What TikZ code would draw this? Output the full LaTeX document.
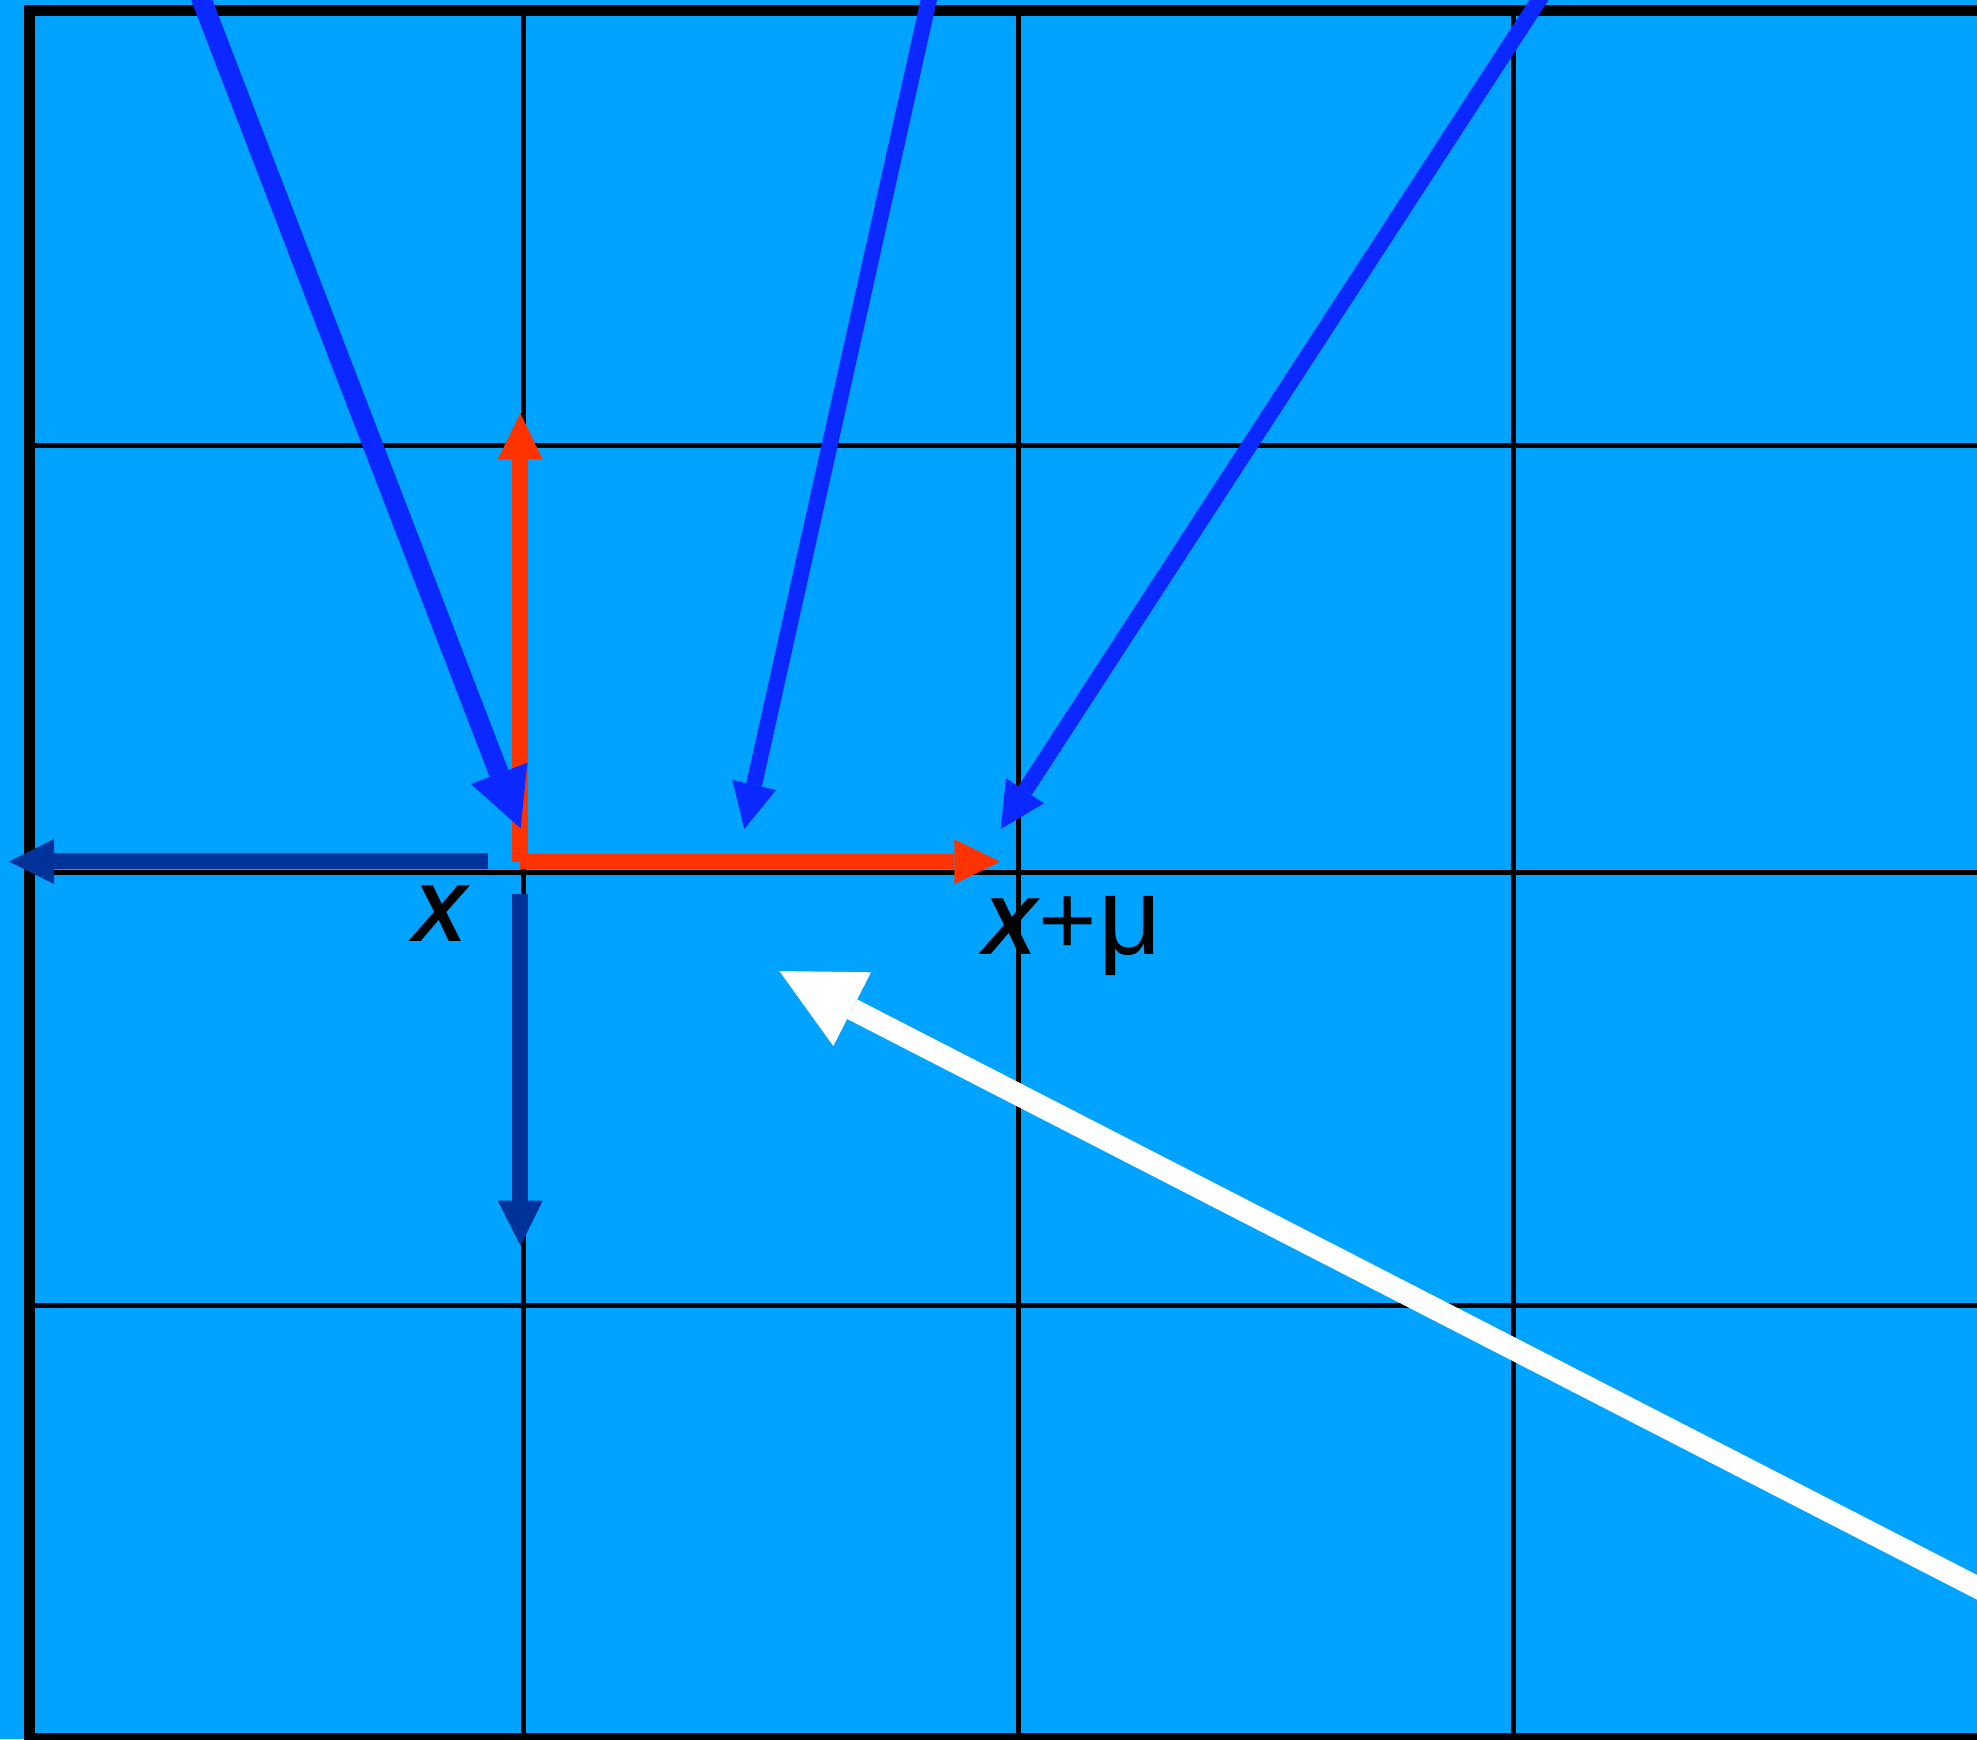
\documentclass[tikz,border=0pt]{standalone}
\usepackage{fontspec}
\setmainfont{Liberation Sans}
\definecolor{bgblue}{RGB}{0,163,255}
\definecolor{arrblue}{RGB}{10,40,255}
\definecolor{arrred}{RGB}{255,51,0}
\definecolor{arrdark}{RGB}{0,51,153}
\tikzset{
  gridline/.style={black, line width=5pt},
  borderline/.style={black, line width=11pt, line join=miter},
  shaft/.style={line width=#1, line cap=butt},
  headfill/.style={fill=#1},
  lbl/.style={inner sep=0pt, anchor=base}
}
\begin{document}
\begin{tikzpicture}[x=1pt,y=-1pt]
\useasboundingbox (0,0) rectangle (1977,1739);
\fill[bgblue] (0,0) rectangle (1977,1739);
% grid
\foreach \gx in {523.5,1018.5,1513.3} \draw[gridline] (\gx,11) -- (\gx,1739);
\foreach \gy in {445,872,1305} \draw[gridline] (29.5,\gy) -- (1977,\gy);
% border
\draw[borderline] (29.5,1739) -- (29.5,11) -- (1977,11);
\draw[borderline] (24,1738.5) -- (1977,1738.5);

% labels
\node[lbl] (labx) at (439.5,941.7) {\fontsize{81}{81}\selectfont\bfseries\itshape X};
\node[lbl, anchor=base west] (labxmu) at (982,954.3) {\fontsize{81}{81}\selectfont\bfseries\itshape X\hspace{2pt}\mdseries\upshape\fontsize{100}{100}\selectfont +\hspace{2pt}\fontsize{110}{110}\selectfont μ};

% coordinates
\coordinate (o) at (520.3,861.5);
% red up
\coordinate (ru) at (520.3,459.3);
\coordinate (ru1) at (497.7,459.3);
\coordinate (ru2) at (542.7,459.3);
\coordinate (rut) at (520.3,413.3);
% red right
\coordinate (rr) at (954.3,861.5);
\coordinate (rr1) at (954.3,839.3);
\coordinate (rr2) at (954.3,884);
\coordinate (rrt) at (1000,861.6);
% dark left
\coordinate (dls) at (488.3,861.3);
\coordinate (dl) at (54,861.3);
\coordinate (dl1) at (54,839);
\coordinate (dl2) at (54,884);
\coordinate (dlt) at (9,861.6);
% dark down
\coordinate (dds) at (520.3,894);
\coordinate (dd) at (520.3,1200.7);
\coordinate (dd1) at (497.7,1200.7);
\coordinate (dd2) at (542.7,1200.7);
\coordinate (ddt) at (520.5,1245.7);
% blue 1
\coordinate (b1s) at (190.3,-30);
\coordinate (b1) at (499,773.5);
\coordinate (b11) at (471,784);
\coordinate (b12) at (527.3,762.7);
\coordinate (b1t) at (520.7,828.3);
% blue 2
\coordinate (b2s) at (935.4,-30);
\coordinate (b2) at (754,785);
\coordinate (b21) at (732.3,780);
\coordinate (b22) at (776,790);
\coordinate (b2t) at (744.3,829);
% blue 3
\coordinate (b3s) at (1558.5,-30);
\coordinate (b3) at (1025,790.7);
\coordinate (b31) at (1006,778.3);
\coordinate (b32) at (1044,803.3);
\coordinate (b3t) at (1000.7,829);
% white
\coordinate (ws) at (2050,1624.8);
\coordinate (w) at (852.2,1009.2);
\coordinate (w1) at (871,972.3);
\coordinate (w2) at (833.3,1046);
\coordinate (wt) at (779.3,971);

% red arrows
\draw[arrred, shaft=16pt] (o) -- (ru);
\fill[headfill=arrred] (ru1) -- (ru2) -- (rut) -- cycle;
\draw[arrred, shaft=15pt] (o) -- (rr);
\fill[headfill=arrred] (rr1) -- (rr2) -- (rrt) -- cycle;
% dark arrows
\draw[arrdark, shaft=16pt] (dls) -- (dl);
\fill[headfill=arrdark] (dl1) -- (dl2) -- (dlt) -- cycle;
\draw[arrdark, shaft=16pt] (dds) -- (dd);
\fill[headfill=arrdark] (dd1) -- (dd2) -- (ddt) -- cycle;
% blue arrows
\draw[arrblue, shaft=20pt] (b1s) -- (b1);
\fill[headfill=arrblue] (b11) -- (b12) -- (b1t) -- cycle;
\draw[arrblue, shaft=16pt] (b2s) -- (b2);
\fill[headfill=arrblue] (b21) -- (b22) -- (b2t) -- cycle;
\draw[arrblue, shaft=16pt] (b3s) -- (b3);
\fill[headfill=arrblue] (b31) -- (b32) -- (b3t) -- cycle;
% white arrow
\draw[white, shaft=22pt] (ws) -- (w);
\fill[headfill=white] (w1) -- (w2) -- (wt) -- cycle;
\end{tikzpicture}
\end{document}
